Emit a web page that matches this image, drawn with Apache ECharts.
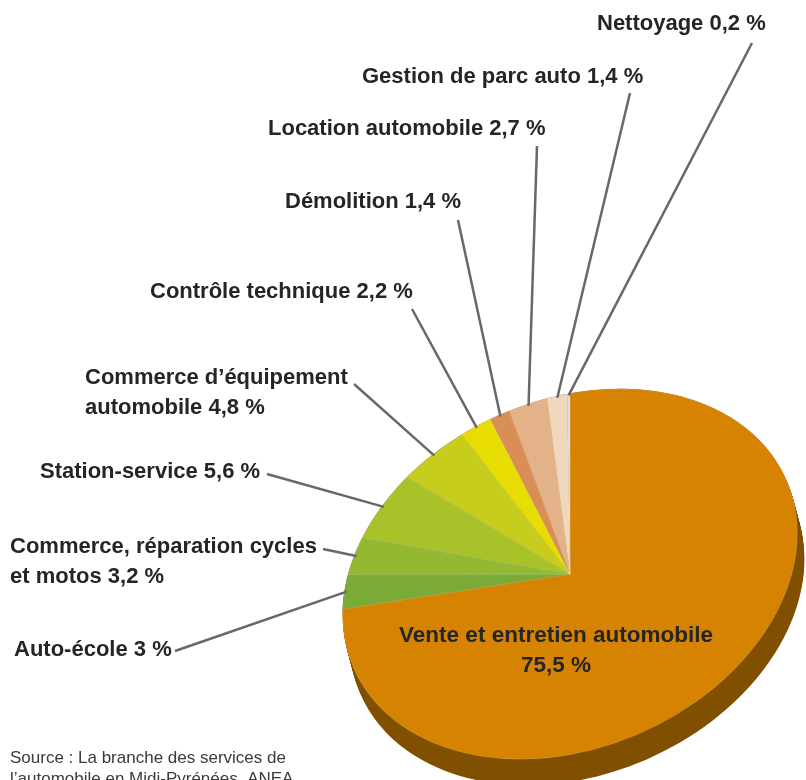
<!DOCTYPE html>
<html>
<head>
<meta charset="utf-8">
<script src="https://cdn.jsdelivr.net/npm/echarts@6/dist/echarts.min.js"></script>
<style>
  html, body { margin: 0; padding: 0; background: #fff; }
  #main { width: 806px; height: 780px; }
</style>
</head>
<body>
<div id="main"></div>
<script>
  // data, in the order the slices run (clockwise from the top)
  var categories = [
    'Vente et entretien automobile',
    'Auto-école',
    'Commerce, réparation cycles\net motos',
    'Station-service',
    'Commerce d’équipement\nautomobile',
    'Contrôle technique',
    'Démolition',
    'Location automobile',
    'Gestion de parc auto',
    'Nettoyage'
  ];
  var shares = [75.5, 3, 3.2, 5.6, 4.8, 2.2, 1.4, 2.7, 1.4, 0.2];
  var colors = ['#d58300', '#7aab36', '#93b832', '#a9c22a', '#c7cd1c', '#e8dd02',
                '#d98e56', '#e3b288', '#efd8bb', '#d9dee4'];

  // where each label sits (left x / centre y) and where its leader line starts
  var labelPos = [[556, 651], [14, 650], [10, 562], [40, 472], [85, 393],
                  [150, 292], [285, 202], [268, 129], [362, 77], [597, 24]];
  var lineStart = [null, [175, 651], [323, 549], [267, 474], [354, 384],
                   [412, 309], [458, 220], [537, 146], [630, 93], [752, 43]];

  // the pie is a tilted ellipse (seen in perspective)
  var cx = 570, cy = 574, rx = 236, ry = 174
  var tilt = 23.4 * Math.PI / 180
  var startAng = -72.3 * Math.PI / 180
  var depth = [7, 26]

  var total = 0
  var cum = []
  for (var i = 0; i < shares.length; i++) {
    cum.push(total)
    total += shares[i]
  }

  function edgePoint(ang, k) {
    var x = rx * k * Math.cos(ang), y = ry * k * Math.sin(ang)
    return [cx + x * Math.cos(tilt) + y * Math.sin(tilt),
            cy - x * Math.sin(tilt) + y * Math.cos(tilt)]
  }

  function fmt(v) {
    return String(v).replace('.', ',') + ' %'
  }

  // side of the pie: same ellipse pushed down a few times
  var side = []
  for (var k = 0; k <= 26; k++) {
    side.push({
      type: 'ellipse',
      x: cx + depth[0] * k / 26,
      y: cy + depth[1] * k / 26,
      rotation: tilt,
      shape: { cx: 0, cy: 0, rx: rx, ry: ry },
      style: { fill: '#805000' },
      z: 0
    })
  }

  var chart = echarts.init(document.getElementById('main'))
  chart.setOption({
    animation: false,
    graphic: side.concat([{
      type: 'text',
      left: 10,
      top: 748,
      style: {
        text: 'Source : La branche des services de\nl’automobile en Midi-Pyrénées, ANEA',
        fontFamily: 'Liberation Sans',
        fontSize: 17,
        lineHeight: 21,
        fill: '#3a3a3a'
      },
      z: 5
    }]),
    series: [{
      type: 'custom',
      coordinateSystem: 'none',
      z: 2,
      data: shares.map(function (v) { return [v] }),
      renderItem: function (params, api) {
        var i = params.dataIndex
        var a0 = startAng + cum[i] / total * Math.PI * 2
        var a1 = a0 + api.value(0) / total * Math.PI * 2
        var children = [{
          type: 'sector',
          x: cx,
          y: cy,
          rotation: tilt,
          scaleY: ry / rx,
          shape: { cx: 0, cy: 0, r0: 0, r: rx, startAngle: a0, endAngle: a1, clockwise: true },
          style: { fill: colors[i], stroke: 'rgba(255,255,255,0.25)', lineWidth: 0.6 }
        }]
        var txt = categories[i] + (i === 0 ? '\n' : ' ') + fmt(shares[i])
        if (lineStart[i]) {
          var p = edgePoint((a0 + a1) / 2, 0.99)
          children.push({
            type: 'polyline',
            shape: { points: [lineStart[i], p] },
            style: { stroke: '#68686c', lineWidth: 2.5, fill: null },
            z2: 5
          })
        }
        children.push({
          type: 'text',
          x: labelPos[i][0],
          y: labelPos[i][1],
          style: {
            text: txt,
            fontFamily: 'Liberation Sans',
            fontSize: i === 0 ? 22.5 : 22,
            fontWeight: 'bold',
            lineHeight: 30,
            fill: '#252528',
            align: i === 0 ? 'center' : 'left',
            verticalAlign: 'middle'
          },
          z2: 10
        })
        return { type: 'group', children: children }
      }
    }]
  })
</script>
</body>
</html>
